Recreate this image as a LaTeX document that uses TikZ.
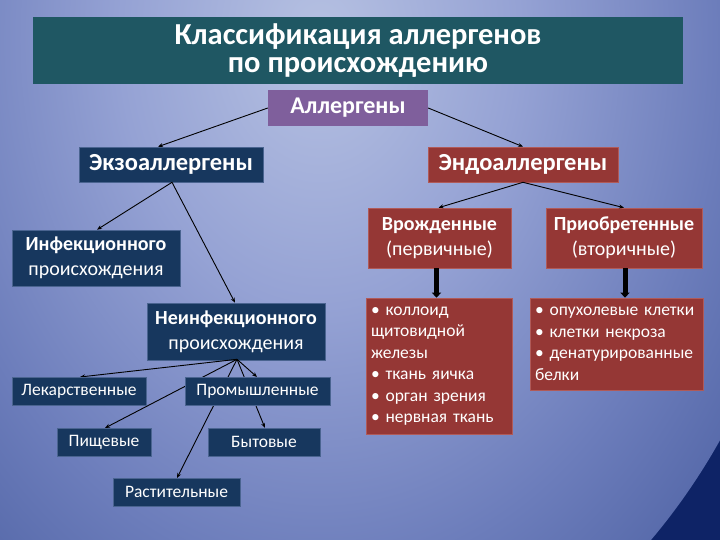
\documentclass[tikz,border=0pt]{standalone}
\usepackage{fontspec}
\setmainfont{Carlito}
\usetikzlibrary{arrows.meta,calc}
\definecolor{bgA}{HTML}{B6C1E2}
\definecolor{bgB}{HTML}{95A2D4}
\definecolor{bgC}{HTML}{6C7DBB}
\definecolor{bgD}{HTML}{4A5EA0}
\definecolor{bgE}{HTML}{2E4487}
\definecolor{bgF}{HTML}{213884}
\definecolor{bgG}{HTML}{12286A}
\definecolor{bgH}{HTML}{0E2366}
\pgfdeclareradialshading{bgshade}{\pgfpoint{0bp}{0bp}}{color(0bp)=(bgA); color(10bp)=(bgB); color(20bp)=(bgC); color(29bp)=(bgD); color(36bp)=(bgE); color(41bp)=(bgF); color(46bp)=(bgG); color(50bp)=(bgH)}
\definecolor{tealbox}{HTML}{1F5763}
\definecolor{purplebox}{HTML}{7F5F9C}
\definecolor{navybox}{HTML}{17375E}
\definecolor{navyedge}{HTML}{4A6490}
\definecolor{redbox}{HTML}{953735}
\definecolor{rededge}{HTML}{B05A58}
\begin{document}
\begin{tikzpicture}[x=1pt,y=-1pt,
  box/.style={rectangle, inner sep=0pt, text=white, align=center},
  navy/.style={box, fill=navybox, draw=navyedge, line width=0.6pt},
  red/.style={box, fill=redbox, draw=rededge, line width=0.6pt},
  conn/.style={draw=black, line width=0.9pt, -{Stealth[length=5pt,width=4pt]}},
  thick arrow/.style={draw=black, line width=5pt, -{Triangle[length=5pt,width=9pt]}},
  small/.style={font=\fontsize{17.5}{20}\selectfont},
  two/.style={font=\fontsize{20}{25}\selectfont},
  list/.style={font=\fontsize{17.5}{21.5}\selectfont},
]
\useasboundingbox (0,0) rectangle (720,540);
\begin{scope}
\clip (0,0) rectangle (720,540);
\fill[bgH] (0,0) rectangle (720,540);
\shade[shading=bgshade] (320,40) ellipse (500pt and 667pt);
\end{scope}

% nodes
\node[box, fill=tealbox, minimum width=650pt, minimum height=67pt,
  font=\fontsize{30.5}{28.5}\selectfont\bfseries] (ttl) at (358,50.5)
  {Классификация аллергенов\\по происхождению};
\node[box, fill=purplebox, minimum width=160pt, minimum height=36pt,
  font=\fontsize{24}{26}\selectfont\bfseries] (all) at (348,108) {Аллергены};
\node[navy, minimum width=184pt, minimum height=35pt,
  font=\fontsize{24.5}{26}\selectfont\bfseries] (exo) at (171,164.5) {Экзоаллергены};
\node[red, minimum width=190pt, minimum height=35pt,
  font=\fontsize{24.5}{26}\selectfont\bfseries] (endo) at (523,164.5) {Эндоаллергены};

\node[navy, two, minimum width=168pt, minimum height=56pt] (inf) at (96,258)
  {\textbf{Инфекционного}\\происхождения};
\node[navy, two, minimum width=178pt, minimum height=57pt] (ninf) at (236,331.5)
  {\textbf{Неинфекционного}\\происхождения};

\node[red, two, minimum width=143pt, minimum height=60pt] (vro) at (439.5,238)
  {\textbf{Врожденные}\\(первичные)};
\node[red, two, minimum width=156pt, minimum height=60pt] (pri) at (624,238)
  {\textbf{Приобретенные}\\(вторичные)};

% connectors (behind the lower boxes)
\draw[conn] (all.west) -- ($(exo.north)+(-13,0)$);
\draw[conn] (all.east) -- (endo.north);
\draw[conn] ($(exo.south)+(1,0)$) -- ($(inf.north)+(1,0)$);
\draw[conn] ($(exo.south)+(1,0)$) -- ($(ninf.north)+(-1,0)$);
\draw[conn] (endo.south) -- ($(vro.north)+(-1,0)$);
\draw[conn] (endo.south) -- (pri.north);

\coordinate (hub) at ($(ninf.south)+(1,-1)$);
\coordinate (lekT) at (80,377);
\coordinate (promT) at (257,377);
\coordinate (pishT) at (105,428);
\coordinate (bytT) at (265,428);
\coordinate (rastT) at (177,478);
\draw[conn] (hub) -- (lekT);
\draw[conn] (hub) -- (promT);
\draw[conn] (hub) -- (pishT);
\draw[conn] (hub) -- (bytT);
\draw[conn] (hub) -- (rastT);

\node[navy, small, minimum width=134pt, minimum height=28pt] (lek) at (79,391) {Лекарственные};
\node[navy, small, minimum width=145pt, minimum height=28pt] (prom) at (257.5,391) {Промышленные};
\node[navy, small, minimum width=94pt, minimum height=28pt] (pish) at (104,442) {Пищевые};
\node[navy, small, minimum width=112pt, minimum height=28pt] (byt) at (264,442) {Бытовые};
\node[navy, small, minimum width=127pt, minimum height=28pt] (rast) at (176.5,492) {Растительные};

\node[red, list, minimum width=146pt, minimum height=136pt, text width=136pt, align=left] (lst1) at (439,366)
  {• коллоид\\щитовидной\\железы\\• ткань яичка\\• орган зрения\\• нервная ткань};
\node[red, list, minimum width=173pt, minimum height=92pt, text width=163pt, align=left] (lst2) at (616.5,344)
  {• опухолевые клетки\\• клетки некроза\\• денатурированные\\белки};

\draw[thick arrow] ($(vro.south)+(-3,0)$) -- ($(lst1.north)+(-2.5,0)$);
\draw[thick arrow] ($(pri.south)+(1,0)$) -- ($(pri.south |- lst2.north)+(1,0)$);
\end{tikzpicture}
\end{document}
